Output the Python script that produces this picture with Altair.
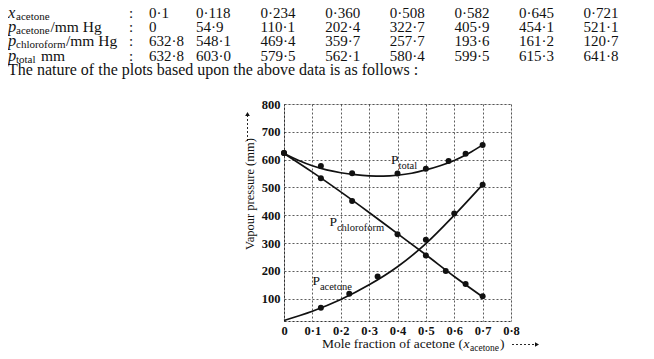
import altair as alt
import pandas as pd

SERIF = "Liberation Serif"
INK = "#111111"

# ---------------- table at the top ----------------
table_x_acetone = ["0·1", "0·118", "0·234", "0·360", "0·508", "0·582", "0·645", "0·721"]
table_p_acetone = ["0", "54·9", "110·1", "202·4", "322·7", "405·9", "454·1", "521·1"]
table_p_chloroform = ["632·8", "548·1", "469·4", "359·7", "257·7", "193·6", "161·2", "120·7"]
table_p_total = ["632·8", "603·0", "579·5", "562·1", "580·4", "599·5", "615·3", "641·8"]
row_symbols = ["x", "p", "p", "p"]
row_subscripts = ["acetone", "acetone", "chloroform", "total"]
row_units = ["", "/mm Hg", "/mm Hg", "mm"]
sentence = "The nature of the plots based upon the above data is as follows :"

# ---------------- plotted points ----------------
total_pt_x = [0.0, 0.13, 0.24, 0.40, 0.50, 0.58, 0.64, 0.70]
total_pt_y = [624, 577, 551, 550, 567, 595, 621, 653]
chloro_pt_x = [0.0, 0.13, 0.24, 0.40, 0.50, 0.57, 0.64, 0.70]
chloro_pt_y = [624, 533, 451, 332, 255, 200, 153, 109]
acet_pt_x = [0.13, 0.23, 0.33, 0.50, 0.60, 0.70]
acet_pt_y = [68, 118, 180, 312, 406, 510]

# smooth curves
total_cv_x = [0.0, 0.05, 0.1, 0.15, 0.2, 0.25, 0.3, 0.35, 0.4, 0.45, 0.5, 0.55, 0.6, 0.65, 0.7]
total_cv_y = [622, 598, 578, 563, 553, 546, 542, 541, 544, 551, 563, 578, 597, 622, 653]
chloro_cv_x = [0.0, 0.1, 0.2, 0.3, 0.4, 0.5, 0.6, 0.7]
chloro_cv_y = [622, 555, 484, 410, 334, 258, 180, 107]
acet_cv_x = [0.0, 0.1, 0.2, 0.3, 0.4, 0.5, 0.6, 0.7]
acet_cv_y = [22, 55, 97, 150, 215, 298, 400, 510]

# curve labels
label_main = ["P", "P", "P"]
label_sub = ["total", "chloroform", "acetone"]
label_x = [0.377, 0.16, 0.10]
label_y = [586, 362, 149]

x_ticks = [0, 0.1, 0.2, 0.3, 0.4, 0.5, 0.6, 0.7, 0.8]
y_ticks = [100, 200, 300, 400, 500, 600, 700, 800]

# ---------------- layout ----------------
W, H = 227, 217
PLOT_LEFT, PLOT_TOP = 284, 104  # page coordinates of the plot area


def px(page_x):
    return page_x - PLOT_LEFT


def py(page_y):
    return page_y - PLOT_TOP


one = pd.DataFrame({"k": [0]})

curves = pd.concat([
    pd.DataFrame({"s": "total", "x": total_cv_x, "y": total_cv_y}),
    pd.DataFrame({"s": "chloroform", "x": chloro_cv_x, "y": chloro_cv_y}),
    pd.DataFrame({"s": "acetone", "x": acet_cv_x, "y": acet_cv_y}),
])
points = pd.concat([
    pd.DataFrame({"s": "total", "x": total_pt_x, "y": total_pt_y}),
    pd.DataFrame({"s": "chloroform", "x": chloro_pt_x, "y": chloro_pt_y}),
    pd.DataFrame({"s": "acetone", "x": acet_pt_x, "y": acet_pt_y}),
])
labels = pd.DataFrame({"m": label_main, "sub": label_sub, "x": label_x, "y": label_y})

xs = alt.Scale(domain=[0, 0.8], nice=False, zero=False)
ys = alt.Scale(domain=[20, 800], nice=False, zero=False)

x_axis = alt.Axis(
    values=x_ticks, title=None, grid=True, ticks=False,
    gridDash=[2, 2], gridColor="#333", gridWidth=0.8, gridOpacity=1,
    domainDash=[2, 2], domainColor="#222", domainWidth=0.9,
    labelFont=SERIF, labelFontSize=12.5, labelFontWeight="bold", labelColor=INK,
    labelPadding=3, labelFlush=False, labelOverlap=False, labelBound=False,
    labelExpr="datum.value == 0 ? '0' : replace(format(datum.value, '.1f'), '.', '·')",
)
y_axis = alt.Axis(
    values=y_ticks, title=None, grid=True, ticks=False,
    gridDash=[2, 2], gridColor="#333", gridWidth=0.8, gridOpacity=1,
    domainDash=[2, 2], domainColor="#222", domainWidth=0.9,
    labelFont=SERIF, labelFontSize=12.5, labelFontWeight="bold", labelColor=INK,
    labelPadding=4, labelFlush=False, labelOverlap=False, labelBound=False,
)


def X(field):
    return alt.X(field, scale=xs, axis=x_axis)


def Y(field):
    return alt.Y(field, scale=ys, axis=y_axis)


lines = alt.Chart(curves).mark_line(interpolate="monotone", color=INK, strokeWidth=1.7).encode(
    x=X("x:Q"), y=Y("y:Q"), detail="s:N",
)
dots = alt.Chart(points).mark_circle(color=INK, opacity=1, size=36).encode(
    x=X("x:Q"), y=Y("y:Q")
)
lab_p = alt.Chart(labels).mark_text(
    font=SERIF, fontSize=13.5, align="left", baseline="alphabetic", color=INK
).encode(x=X("x:Q"), y=Y("y:Q"), text="m:N")
lab_s = alt.Chart(labels).mark_text(
    font=SERIF, fontSize=10.5, align="left", baseline="alphabetic", color=INK, dx=7.5, dy=5
).encode(x=X("x:Q"), y=Y("y:Q"), text="sub:N")


def txt(text, page_x, page_y, size, style="normal", align="left", angle=0, weight="normal"):
    kw = dict(font=SERIF, fontSize=size, fontStyle=style, align=align,
              baseline="alphabetic", color=INK, text=text, fontWeight=weight)
    if angle:
        kw["angle"] = angle
        kw["baseline"] = "middle"
    return alt.Chart(one).mark_text(**kw).encode(
        x=alt.value(px(page_x)), y=alt.value(py(page_y))
    )


def dashed(x1, y1, x2, y2):
    return alt.Chart(one).mark_rule(color=INK, strokeDash=[2, 2], strokeWidth=0.9).encode(
        x=alt.value(px(x1)), y=alt.value(py(y1)), x2=alt.value(px(x2)), y2=alt.value(py(y2))
    )


def head(page_x, page_y, shape):
    return alt.Chart(one).mark_point(shape=shape, filled=True, color=INK, opacity=1, size=22).encode(
        x=alt.value(px(page_x)), y=alt.value(py(page_y))
    )


# table cells
rows = [table_x_acetone, table_p_acetone, table_p_chloroform, table_p_total]
cells = pd.DataFrame(
    [{"row": r, "col": c, "t": v} for r, vals in enumerate(rows) for c, v in enumerate(vals)]
)
BASE0 = 17.5
ROWSTEP = 14.4
col0 = px(149)
col1 = px(196)
colstep = 64.6
table_vals = alt.Chart(cells).transform_calculate(
    px=f"datum.col == 0 ? {col0} : {col1} + (datum.col - 1) * {colstep}",
    py=f"{py(BASE0)} + datum.row * {ROWSTEP}",
).mark_text(font=SERIF, fontSize=15, align="left", baseline="alphabetic", color=INK).encode(
    x=alt.X("px:Q", scale=None, axis=None), y=alt.Y("py:Q", scale=None, axis=None), text="t:N"
)

ann = []
unit_x = [None, 50.5, 66, 41]
for r in range(4):
    base = BASE0 + r * ROWSTEP
    ann.append(txt(row_symbols[r], 8, base, 16.5, style="italic"))
    ann.append(txt(row_subscripts[r], 16, base + 2, 11))
    if row_units[r]:
        ann.append(txt(row_units[r], unit_x[r], base, 15.5))
    ann.append(txt(":", 129, base, 15))
ann.append(txt(sentence, 8, 74.5, 16))

# axis titles
ann.append(txt("Vapour pressure (mm)", 250, 194, 12.5, align="center", angle=270))
ann.append(dashed(247.5, 141, 247.5, 116))
ann.append(head(247.5, 114, "triangle-up"))
ann.append(txt("Mole fraction of acetone (", 322, 348, 13.5))
ann.append(txt("x", 463.5, 348, 13.5, style="italic"))
ann.append(txt("acetone", 470, 351, 9.5))
ann.append(txt(")", 500, 348, 13.5))
ann.append(dashed(512, 344.5, 535, 344.5))
ann.append(head(537, 344.5, "triangle-right"))

chart = alt.layer(lines, dots, lab_p, lab_s, table_vals, *ann).properties(
    width=W, height=H,
    autosize=alt.AutoSizeParams(type="none"),
    padding={"left": PLOT_LEFT - 8, "top": PLOT_TOP - 8, "right": 135, "bottom": 30},
).configure_view(strokeWidth=0, strokeOpacity=0).configure_axis(
    labelFont=SERIF, labelOverlap=False
).configure(background="white")

chart.save("out.html", embed_options={"renderer": "svg", "actions": False})
